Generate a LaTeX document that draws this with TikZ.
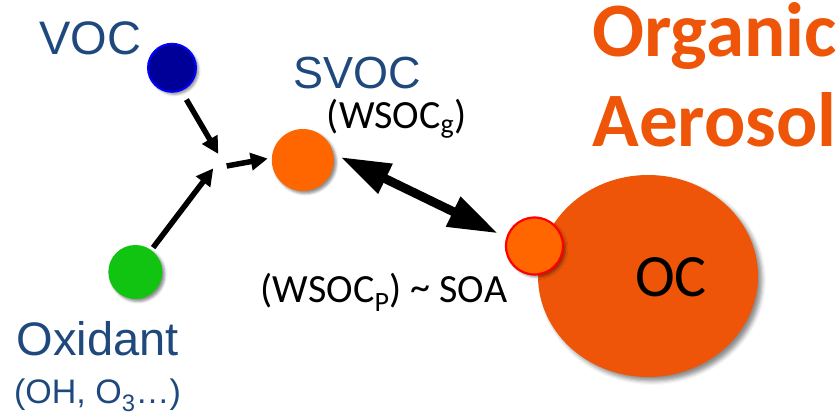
\documentclass[tikz,border=0pt]{standalone}
\usepackage{fontspec}
\setmainfont{Carlito}
\newfontfamily\arialfont{Liberation Sans}
\usetikzlibrary{arrows.meta,shapes.geometric,shadows.blur}

\definecolor{vocfill}{RGB}{0,0,153}
\definecolor{vocedge}{RGB}{0,0,255}
\definecolor{oxgreen}{RGB}{17,196,17}
\definecolor{svocorange}{RGB}{255,102,0}
\definecolor{aerosolorange}{RGB}{238,85,8}
\definecolor{labelblue}{RGB}{31,73,125}

\tikzset{
  species/.style={circle, inner sep=0pt,
    blur shadow={shadow xshift=2.5pt, shadow yshift=-2.5pt,
                 shadow blur radius=2.5pt, shadow opacity=45}},
  caption/.style={inner sep=0pt, anchor=base},
  feed/.style={line width=5.5pt, -{Triangle[length=17pt,width=17pt]}},
  exchange/.style={line width=9pt,
    {Triangle[length=50pt,width=31pt]}-{Triangle[length=50pt,width=31pt]}},
}

\begin{document}
\begin{tikzpicture}[x=1pt,y=-1pt]
\useasboundingbox (0,0) rectangle (838,415);

% particle phase
\node[ellipse, inner sep=0pt, minimum width=220pt, minimum height=202pt,
      fill=aerosolorange,
      blur shadow={shadow xshift=4pt, shadow yshift=-4pt,
                   shadow blur radius=4pt, shadow opacity=45}]
      (oc) at (648,276) {};
\node[species, minimum size=57pt, fill=svocorange, draw=red, line width=2.2pt]
      (soa) at (534.5,246) {};

% gas phase species
\node[species, minimum size=48pt, fill=vocfill, draw=vocedge, line width=2pt]
      (voc) at (172,67.8) {};
\node[species, minimum size=62pt, fill=svocorange] (svoc) at (302.8,160) {};
\node[species, minimum size=54pt, fill=oxgreen] (oxi) at (135.3,272) {};

% labels
\node[caption, text=labelblue, font=\arialfont\fontsize{47}{47}\selectfont]
      (voct) at (90.3,54.3) {VOC};
\node[caption, text=labelblue, font=\arialfont\fontsize{45}{45}\selectfont]
      (svoct) at (357.5,88.3) {SVOC};
\node[caption, font=\fontsize{40}{40}\selectfont]
      (wsocg) at (396.7,128.3) {(WSOC\textsubscript{g})};
\node[caption, text=labelblue, font=\arialfont\fontsize{47}{47}\selectfont]
      (oxit) at (97.5,355.5) {Oxidant};
\node[caption, text=labelblue, font=\arialfont\fontsize{34}{34}\selectfont]
      (oxis) at (97.5,403) {(OH, O\textsubscript{3}…)};
\node[caption, font=\fontsize{40}{40}\selectfont]
      (wsocp) at (384,302) {(WSOC\textsubscript{P}) \raisebox{2pt}{\textasciitilde} SOA};
\node[caption, font=\fontsize{60}{60}\selectfont] (oct) at (671,296) {OC};
% two-line title, anchored on the baseline of its last line
\node[caption, text=aerosolorange, align=center,
      font=\bfseries\fontsize{77}{90}\selectfont]
      (title) at (714.5,146.7) {Organic\\Aerosol};

% reaction arrows
\coordinate (jv) at (218.3,154);
\coordinate (jo) at (213.3,168.3);
\coordinate (js) at (226.7,166);
\draw[feed, shorten <=10pt] (voc.-68) -- (jv);
\draw[feed, shorten <=3pt] (oxi.54) -- (jo);
\draw[feed, shorten >=4pt] (js) -- (svoc.176);

% gas/particle partitioning
\draw[exchange, shorten <=8pt, shorten >=9pt] (svoc.12) -- (soa.163);
\end{tikzpicture}
\end{document}
